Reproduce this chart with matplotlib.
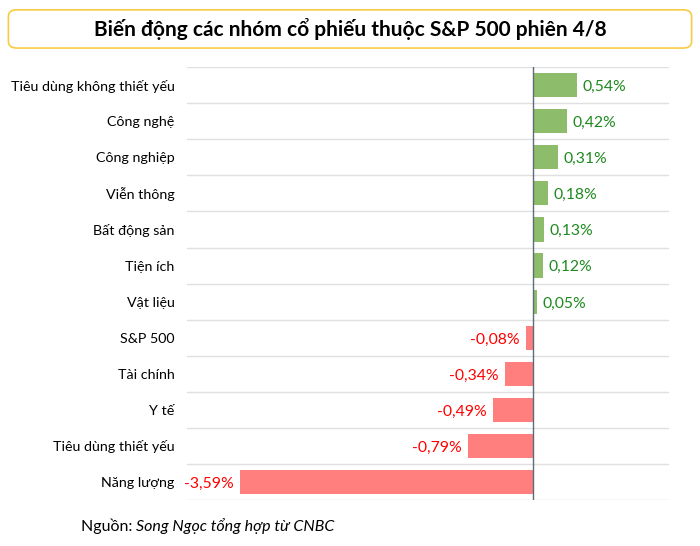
import matplotlib
matplotlib.use("Agg")
import matplotlib.pyplot as plt
import matplotlib.patches as mpatches

plt.rcParams['font.family'] = ['Lato', 'DejaVu Sans']

# Data
sectors = ["Tiêu dùng không thiết yếu", "Công nghệ", "Công nghiệp", "Viễn thông",
           "Bất động sản", "Tiện ích", "Vật liệu", "S&P 500", "Tài chính", "Y tế",
           "Tiêu dùng thiết yếu", "Năng lượng"]
changes = [0.54, 0.42, 0.31, 0.18, 0.13, 0.12, 0.05, -0.08, -0.34, -0.49, -0.79, -3.59]

GREEN_BAR, RED_BAR = "#8dbd6a", "#ff7f7f"
GREEN_TXT, RED_TXT = "#1e8a1e", "#ff0000"

fig = plt.figure(figsize=(7, 5.46), dpi=100)
ax = fig.add_axes([0.267, 0.0842, 0.689, 0.7928])

ypos = list(range(len(sectors)))
colors = [GREEN_BAR if v >= 0 else RED_BAR for v in changes]
ax.barh(ypos, changes, height=0.67, color=colors, zorder=2)

for y, v in zip(ypos, changes):
    label = f"{v:.2f}%".replace(".", ",")
    if v >= 0:
        ax.text(v + 0.07, y + 0.05, label, ha="left", va="center", fontsize=11.3, color=GREEN_TXT)
    else:
        ax.text(v - 0.08, y + 0.05, label, ha="right", va="center", fontsize=11.3, color=RED_TXT)

# row separators
for b in range(len(sectors) + 1):
    ax.axhline(b - 0.5, color="#e0e0e0", linewidth=1, zorder=1)
ax.axvline(0, color="#5f6b78", linewidth=1, zorder=3)

ax.set_xlim(-4.24, 1.67)
ax.set_ylim(len(sectors) - 0.5, -0.5)
ax.set_yticks(ypos)
ax.set_yticklabels(sectors, fontsize=10.3)
ax.tick_params(axis="y", length=0, pad=9)
ax.set_xticks([])
for s in ax.spines.values():
    s.set_visible(False)

# title box
box = mpatches.FancyBboxPatch((0.012, 0.912), 0.976, 0.07,
                              boxstyle="round,pad=0,rounding_size=0.012",
                              transform=fig.transFigure, facecolor="white",
                              edgecolor="#f7cb45", linewidth=1.2)
fig.patches.append(box)
fig.text(0.5, 0.947, "Biến động các nhóm cổ phiếu thuộc S&P 500 phiên 4/8",
         ha="center", va="center", fontsize=15, fontweight="bold")

# source
fig.text(0.116, 0.037, "Nguồn: ", ha="left", va="center", fontsize=11.5)
fig.text(0.194, 0.037, "Song Ngọc tổng hợp từ CNBC", ha="left", va="center",
         fontsize=11.5, style="italic")

fig.savefig("out.png", dpi=100)
